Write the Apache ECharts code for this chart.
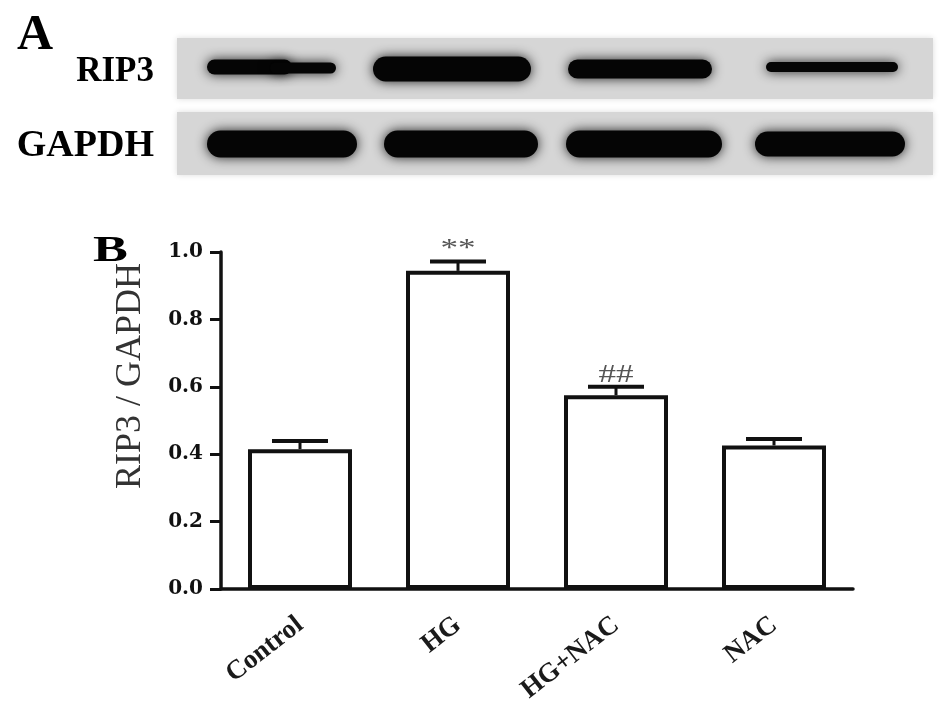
<!DOCTYPE html>
<html>
<head>
<meta charset="utf-8">
<script src="https://cdn.jsdelivr.net/npm/echarts@6/dist/echarts.min.js"></script>
<style>
  html, body { margin: 0; padding: 0; background: #fff; }
  #main { width: 952px; height: 719px; }
</style>
</head>
<body>
<div id="main"></div>
<script>
// values
var groups = ["Control", "HG", "HG+NAC", "NAC"];
var ratio = [0.415, 0.944, 0.575, 0.426];
var sem = [0.024, 0.028, 0.025, 0.019];
var marks = ["", "**", "##", ""];

var serif = "Liberation Serif";
var chartDom = document.getElementById("main");
var myChart = echarts.init(chartDom);

// western blot strip (panel A), drawn as decoration
function band(x1, x2, cy, h) {
  return {
    type: "rect",
    shape: { x: x1, y: cy - h / 2, width: x2 - x1, height: h, r: h / 2 },
    style: { fill: "#050505", shadowBlur: 12, shadowColor: "rgba(0,0,0,0.85)" },
    z: 2
  };
}

var blot = [
  { type: "rect", shape: { x: 177, y: 38, width: 756, height: 61 }, style: { fill: "#d6d6d6", shadowBlur: 6, shadowColor: "#dddddd" }, z: 1 },
  { type: "rect", shape: { x: 177, y: 112, width: 756, height: 63 }, style: { fill: "#d6d6d6", shadowBlur: 6, shadowColor: "#dddddd" }, z: 1 },
  band(207, 292, 67, 15),
  band(270, 336, 68, 11),
  band(373, 531, 69, 25),
  band(568, 712, 69, 19),
  band(766, 898, 67, 10),
  band(207, 357, 144, 27),
  band(384, 538, 144, 27),
  band(566, 722, 144, 27),
  band(755, 905, 144, 25),
  { type: "text", x: 17, y: 61, style: { text: "A", font: "bold 50px " + serif, fill: "#000", textVerticalAlign: "bottom" }, z: 3 },
  { type: "text", x: 154, y: 89, style: { text: "RIP3", font: "bold 35px " + serif, fill: "#000", textAlign: "right", textVerticalAlign: "bottom" }, z: 3 },
  { type: "text", x: 154, y: 165, style: { text: "GAPDH", font: "bold 38px " + serif, fill: "#000", textAlign: "right", textVerticalAlign: "bottom" }, z: 3 },
  { type: "text", x: 93, y: 270, scaleX: 1.45, style: { text: "B", font: "bold 36px " + serif, fill: "#000", textVerticalAlign: "bottom" }, z: 3 },
  { type: "text", x: 131, y: 376, rotation: Math.PI / 2, style: { text: "RIP3 / GAPDH", font: "36px " + serif, fill: "#333", textAlign: "center", textVerticalAlign: "middle" }, z: 3 }
];

var errData = groups.map(function (g, i) {
  return [i, ratio[i], ratio[i] + sem[i]];
});

var options = {
  animation: false,
  backgroundColor: "#fff",
  grid: { left: 221, right: 99, top: 252, bottom: 130 },
  xAxis: {
    type: "category",
    data: groups,
    axisLine: { lineStyle: { color: "#111", width: 3.5 } },
    axisTick: { alignWithLabel: true, length: 10, lineStyle: { color: "#111", width: 3 } },
    axisLabel: {
      rotate: 38,
      margin: 33,
      fontFamily: serif,
      fontWeight: "bold",
      fontSize: 27,
      color: "#1a1a1a"
    }
  },
  yAxis: {
    type: "value",
    min: 0,
    max: 1,
    interval: 0.2,
    splitLine: { show: false },
    axisLine: { show: true, lineStyle: { color: "#111", width: 3.5 } },
    axisTick: { show: true, length: 11, lineStyle: { color: "#111", width: 3 } },
    axisLabel: {
      margin: 18,
      fontFamily: "DejaVu Serif",
      fontWeight: "bold",
      fontSize: 20,
      color: "#111",
      formatter: function (v) { return v.toFixed(1); }
    }
  },
  graphic: blot,
  series: [
    {
      name: "RIP3 / GAPDH",
      type: "bar",
      data: ratio,
      barWidth: 104,
      itemStyle: { color: "#fff", borderColor: "#111", borderWidth: 4 },
      z: 2
    },
    {
      type: "custom",
      data: errData,
      z: 3,
      renderItem: function (params, api) {
        var p0 = api.coord([api.value(0), api.value(1)]);
        var p1 = api.coord([api.value(0), api.value(2)]);
        var hw = 28;
        return {
          type: "group",
          children: [
            { type: "line", shape: { x1: p0[0], y1: p0[1], x2: p1[0], y2: p1[1] }, style: { stroke: "#111", lineWidth: 3 } },
            { type: "line", shape: { x1: p1[0] - hw, y1: p1[1], x2: p1[0] + hw, y2: p1[1] }, style: { stroke: "#111", lineWidth: 4 } },
            {
              type: "text",
              x: p1[0],
              y: p1[1] + 1,
              scaleX: 1.35,
              style: {
                text: marks[params.dataIndex],
                font: "26px " + serif,
                fill: "#555",
                textAlign: "center",
                textVerticalAlign: "bottom"
              }
            }
          ]
        };
      }
    }
  ]
};

options && myChart.setOption(options);
</script>
</body>
</html>
